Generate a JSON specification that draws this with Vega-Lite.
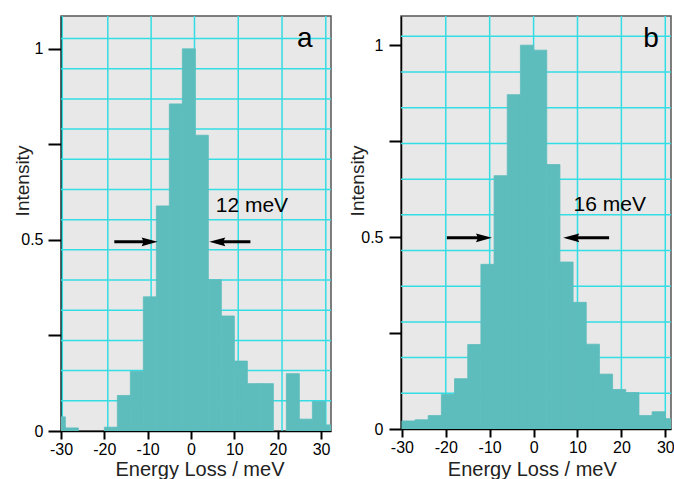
{
 "$schema": "https://vega.github.io/schema/vega-lite/v6.json",
 "padding": {"left": 12, "top": 14, "right": 2, "bottom": 0},
 "background": "white",
 "spacing": 14,
 "config": {
  "font": "Liberation Sans",
  "view": {"fill": "#e8e8e8", "stroke": "#555555", "strokeWidth": 1.5},
  "axis": {"grid": false, "domainColor": "black", "domainWidth": 1.5, "tickColor": "black", "labelColor": "black", "titleColor": "#222222", "labelFontSize": 16, "titleFontSize": 20, "titleFontWeight": "normal", "labelFont": "Liberation Sans", "titleFont": "Liberation Sans"}
 },
 "datasets": {
  "barsA": [
   {"x0": -32, "x1": -29, "y": 0.037}, {"x0": -29, "x1": -26, "y": 0.008}, {"x0": -20, "x1": -17, "y": 0.010},
   {"x0": -17, "x1": -14, "y": 0.093}, {"x0": -14, "x1": -11, "y": 0.156}, {"x0": -11, "x1": -8, "y": 0.351},
   {"x0": -8, "x1": -5, "y": 0.589}, {"x0": -5, "x1": -2, "y": 0.856}, {"x0": -2, "x1": 1, "y": 1.0},
   {"x0": 1, "x1": 4, "y": 0.774}, {"x0": 4, "x1": 7, "y": 0.396}, {"x0": 7, "x1": 10, "y": 0.301},
   {"x0": 10, "x1": 13, "y": 0.183}, {"x0": 13, "x1": 16, "y": 0.124}, {"x0": 16, "x1": 19, "y": 0.124},
   {"x0": 22, "x1": 25, "y": 0.150}, {"x0": 25, "x1": 28, "y": 0.031}, {"x0": 28, "x1": 31, "y": 0.077},
   {"x0": 31, "x1": 34, "y": 0.016}
  ],
  "barsB": [
   {"x0": -30, "x1": -27, "y": 0.021}, {"x0": -27, "x1": -24, "y": 0.024}, {"x0": -24, "x1": -21, "y": 0.035},
   {"x0": -21, "x1": -18, "y": 0.090}, {"x0": -18, "x1": -15, "y": 0.131}, {"x0": -15, "x1": -12, "y": 0.220},
   {"x0": -12, "x1": -9, "y": 0.429}, {"x0": -9, "x1": -6, "y": 0.660}, {"x0": -6, "x1": -3, "y": 0.871},
   {"x0": -3, "x1": 0, "y": 1.0}, {"x0": 0, "x1": 3, "y": 0.987}, {"x0": 3, "x1": 6, "y": 0.689},
   {"x0": 6, "x1": 9, "y": 0.435}, {"x0": 9, "x1": 12, "y": 0.330}, {"x0": 12, "x1": 15, "y": 0.221},
   {"x0": 15, "x1": 18, "y": 0.143}, {"x0": 18, "x1": 21, "y": 0.103}, {"x0": 21, "x1": 24, "y": 0.095},
   {"x0": 24, "x1": 27, "y": 0.035}, {"x0": 27, "x1": 30, "y": 0.045}, {"x0": 30, "x1": 33, "y": 0.027}
  ],
  "gridAx": [{"x": -29.7}, {"x": -19.2}, {"x": -9.2}, {"x": 0.8}, {"x": 10.9}, {"x": 21.0}, {"x": 31.1}],
  "gridAy": [{"y": 0.079}, {"y": 0.158}, {"y": 0.237}, {"y": 0.316}, {"y": 0.395}, {"y": 0.474}, {"y": 0.553}, {"y": 0.632}, {"y": 0.711}, {"y": 0.79}, {"y": 0.869}, {"y": 0.948}, {"y": 1.027}],
  "gridBx": [{"x": -20}, {"x": -10}, {"x": 0}, {"x": 10}, {"x": 20}, {"x": 30}],
  "gridBy": [{"y": 0.093}, {"y": 0.186}, {"y": 0.279}, {"y": 0.372}, {"y": 0.465}, {"y": 0.558}, {"y": 0.651}, {"y": 0.744}, {"y": 0.837}, {"y": 0.93}, {"y": 1.023}],
  "arrowsA": [{"x": -17.7, "x2": -9.5, "y": 0.495}, {"x": 13.7, "x2": 6.0, "y": 0.495}],
  "headsRA": [{"x": -9.55, "y": 0.495}],
  "headsLA": [{"x": 6.05, "y": 0.495}],
  "arrowsB": [{"x": -19.75, "x2": -11.3, "y": 0.498}, {"x": 17.2, "x2": 8.6, "y": 0.498}],
  "headsRB": [{"x": -11.3, "y": 0.498}],
  "headsLB": [{"x": 8.57, "y": 0.498}],
  "noteA": [{"x": 5.7, "y": 0.573, "text": "12 meV"}],
  "noteB": [{"x": 9.12, "y": 0.5685, "text": "16 meV"}],
  "tagA": [{"x": 24.47, "y": 1.005, "text": "a"}],
  "tagB": [{"x": 24.98, "y": 0.9956, "text": "b"}]
 },
 "hconcat": [
  {
   "width": 270, "height": 415,
   "resolve": {"axis": {"x": "independent", "y": "independent"}},
   "layer": [
    {"data": {"name": "gridAx"}, "mark": {"type": "rule", "color": "#33dde3", "strokeWidth": 1.5},
     "encoding": {"x": {"field": "x", "type": "quantitative", "scale": {"domain": [-30, 32.3], "nice": false, "zero": false}, "axis": null}}},
    {"data": {"name": "gridAy"}, "mark": {"type": "rule", "color": "#33dde3", "strokeWidth": 1.5},
     "encoding": {"y": {"field": "y", "type": "quantitative", "scale": {"domain": [0, 1.086], "nice": false}, "axis": null}}},
    {"data": {"name": "barsA"}, "mark": {"type": "rect", "color": "#5dbdbd", "stroke": "#5dbdbd", "strokeWidth": 0.8, "clip": true},
     "encoding": {
      "x": {"field": "x0", "type": "quantitative", "scale": {"domain": [-30, 32.3], "nice": false, "zero": false},
        "axis": {"title": "Energy Loss / meV", "values": [-30, -20, -10, 0, 10, 20, 30], "labelExpr": "datum.value < 0 ? '-' + (-datum.value) : '' + datum.value", "labelFlush": false, "tickSize": 8, "tickWidth": 2, "labelPadding": 2, "titlePadding": 2, "titleX": 138.5}},
      "x2": {"field": "x1"},
      "y": {"field": "y", "type": "quantitative", "scale": {"domain": [0, 1.086], "nice": false},
        "axis": {"title": "Intensity", "values": [0, 0.25, 0.5, 0.75, 1], "labelExpr": "datum.value == 0 ? '0' : datum.value == 0.5 ? '0.5' : datum.value == 1 ? '1' : ''", "tickSize": 13, "tickWidth": 2, "labelPadding": 5, "titleFontSize": 19, "titleX": -38.3, "titleY": 164.5, "titleAngle": -90, "titleBaseline": "middle", "titleAlign": "center"}},
      "y2": {"datum": 0}
     }},
    {"data": {"name": "arrowsA"}, "mark": {"type": "rule", "color": "black", "strokeWidth": 3},
     "encoding": {"x": {"field": "x", "type": "quantitative", "scale": {"domain": [-30, 32.3], "nice": false, "zero": false}, "axis": null}, "x2": {"field": "x2"},
      "y": {"field": "y", "type": "quantitative", "scale": {"domain": [0, 1.086], "nice": false}, "axis": null}}},
    {"data": {"name": "headsRA"}, "mark": {"type": "point", "shape": "M1,0L-1,-0.55L-0.75,0L-1,0.55Z", "size": 256, "filled": true, "color": "black", "opacity": 1},
     "encoding": {"x": {"field": "x", "type": "quantitative", "scale": {"domain": [-30, 32.3], "nice": false, "zero": false}, "axis": null},
      "y": {"field": "y", "type": "quantitative", "scale": {"domain": [0, 1.086], "nice": false}, "axis": null}}},
    {"data": {"name": "headsLA"}, "mark": {"type": "point", "shape": "M-1,0L1,-0.55L0.75,0L1,0.55Z", "size": 256, "filled": true, "color": "black", "opacity": 1},
     "encoding": {"x": {"field": "x", "type": "quantitative", "scale": {"domain": [-30, 32.3], "nice": false, "zero": false}, "axis": null},
      "y": {"field": "y", "type": "quantitative", "scale": {"domain": [0, 1.086], "nice": false}, "axis": null}}},
    {"data": {"name": "noteA"}, "mark": {"type": "text", "align": "left", "baseline": "alphabetic", "fontSize": 21, "color": "black"},
     "encoding": {"x": {"field": "x", "type": "quantitative", "scale": {"domain": [-30, 32.3], "nice": false, "zero": false}, "axis": null},
      "y": {"field": "y", "type": "quantitative", "scale": {"domain": [0, 1.086], "nice": false}, "axis": null}, "text": {"field": "text"}}},
    {"data": {"name": "tagA"}, "mark": {"type": "text", "align": "left", "baseline": "alphabetic", "fontSize": 28, "color": "black"},
     "encoding": {"x": {"field": "x", "type": "quantitative", "scale": {"domain": [-30, 32.3], "nice": false, "zero": false}, "axis": null},
      "y": {"field": "y", "type": "quantitative", "scale": {"domain": [0, 1.086], "nice": false}, "axis": null}, "text": {"field": "text"}}}
   ]
  },
  {
   "width": 270, "height": 413,
   "resolve": {"axis": {"x": "independent", "y": "independent"}},
   "layer": [
    {"data": {"name": "gridBx"}, "mark": {"type": "rule", "color": "#33dde3", "strokeWidth": 1.5},
     "encoding": {"x": {"field": "x", "type": "quantitative", "scale": {"domain": [-30.2, 31.3], "nice": false, "zero": false}, "axis": null}}},
    {"data": {"name": "gridBy"}, "mark": {"type": "rule", "color": "#33dde3", "strokeWidth": 1.5},
     "encoding": {"y": {"field": "y", "type": "quantitative", "scale": {"domain": [0, 1.076], "nice": false}, "axis": null}}},
    {"data": {"name": "barsB"}, "mark": {"type": "rect", "color": "#5dbdbd", "stroke": "#5dbdbd", "strokeWidth": 0.8, "clip": true},
     "encoding": {
      "x": {"field": "x0", "type": "quantitative", "scale": {"domain": [-30.2, 31.3], "nice": false, "zero": false},
        "axis": {"title": "Energy Loss / meV", "values": [-30, -20, -10, 0, 10, 20, 30], "labelExpr": "datum.value < 0 ? '-' + (-datum.value) : '' + datum.value", "labelFlush": false, "tickSize": 8, "tickWidth": 2, "labelPadding": 2, "titlePadding": 4, "titleX": 130.8}},
      "x2": {"field": "x1"},
      "y": {"field": "y", "type": "quantitative", "scale": {"domain": [0, 1.076], "nice": false},
        "axis": {"title": "Intensity", "values": [0, 0.25, 0.5, 0.75, 1], "labelExpr": "datum.value == 0 ? '0' : datum.value == 0.5 ? '0.5' : datum.value == 1 ? '1' : ''", "tickSize": 12, "tickWidth": 2, "labelPadding": 6, "titleFontSize": 19, "titleX": -43.3, "titleY": 164.5, "titleAngle": -90, "titleBaseline": "middle", "titleAlign": "center"}},
      "y2": {"datum": 0}
     }},
    {"data": {"name": "arrowsB"}, "mark": {"type": "rule", "color": "black", "strokeWidth": 3},
     "encoding": {"x": {"field": "x", "type": "quantitative", "scale": {"domain": [-30.2, 31.3], "nice": false, "zero": false}, "axis": null}, "x2": {"field": "x2"},
      "y": {"field": "y", "type": "quantitative", "scale": {"domain": [0, 1.076], "nice": false}, "axis": null}}},
    {"data": {"name": "headsRB"}, "mark": {"type": "point", "shape": "M1,0L-1,-0.55L-0.75,0L-1,0.55Z", "size": 256, "filled": true, "color": "black", "opacity": 1},
     "encoding": {"x": {"field": "x", "type": "quantitative", "scale": {"domain": [-30.2, 31.3], "nice": false, "zero": false}, "axis": null},
      "y": {"field": "y", "type": "quantitative", "scale": {"domain": [0, 1.076], "nice": false}, "axis": null}}},
    {"data": {"name": "headsLB"}, "mark": {"type": "point", "shape": "M-1,0L1,-0.55L0.75,0L1,0.55Z", "size": 256, "filled": true, "color": "black", "opacity": 1},
     "encoding": {"x": {"field": "x", "type": "quantitative", "scale": {"domain": [-30.2, 31.3], "nice": false, "zero": false}, "axis": null},
      "y": {"field": "y", "type": "quantitative", "scale": {"domain": [0, 1.076], "nice": false}, "axis": null}}},
    {"data": {"name": "noteB"}, "mark": {"type": "text", "align": "left", "baseline": "alphabetic", "fontSize": 21, "color": "black"},
     "encoding": {"x": {"field": "x", "type": "quantitative", "scale": {"domain": [-30.2, 31.3], "nice": false, "zero": false}, "axis": null},
      "y": {"field": "y", "type": "quantitative", "scale": {"domain": [0, 1.076], "nice": false}, "axis": null}, "text": {"field": "text"}}},
    {"data": {"name": "tagB"}, "mark": {"type": "text", "align": "left", "baseline": "alphabetic", "fontSize": 28, "color": "black"},
     "encoding": {"x": {"field": "x", "type": "quantitative", "scale": {"domain": [-30.2, 31.3], "nice": false, "zero": false}, "axis": null},
      "y": {"field": "y", "type": "quantitative", "scale": {"domain": [0, 1.076], "nice": false}, "axis": null}, "text": {"field": "text"}}}
   ]
  }
 ]
}
